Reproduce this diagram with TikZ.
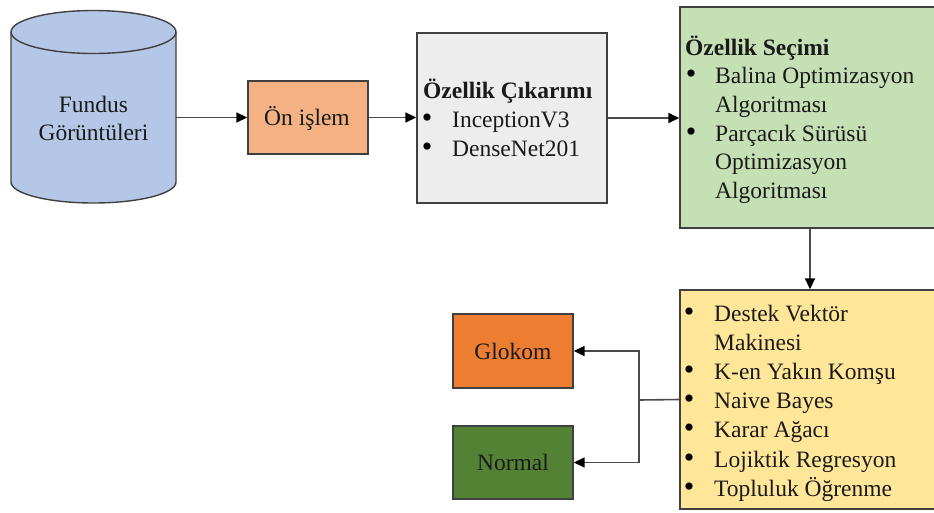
\documentclass[tikz,border=0pt]{standalone}
\usepackage{fontspec}
\newfontfamily\tnr{Liberation Serif}
\usetikzlibrary{arrows.meta}
\definecolor{cylfill}{HTML}{B4C7E7}
\definecolor{onfill}{HTML}{F4B183}
\definecolor{grayfill}{HTML}{EDEDED}
\definecolor{greenfill}{HTML}{C5E0B4}
\definecolor{yellowfill}{HTML}{FFE699}
\definecolor{glokomfill}{HTML}{ED7D31}
\definecolor{normalfill}{HTML}{548235}
\definecolor{bordergray}{HTML}{404040}
\definecolor{linegray}{HTML}{4A4A4A}
\definecolor{textcol}{HTML}{1A1A1A}
\begin{document}
\begin{tikzpicture}[x=1pt,y=-1pt,
  font=\tnr\fontsize{23.5}{29}\selectfont,
  box/.style={draw=bordergray, line width=1.4pt, inner sep=0},
  txt/.style={anchor=base west, inner sep=0, text=textcol},
  ctxt/.style={anchor=base, inner sep=0, text=textcol},
  bul/.style={anchor=base, inner sep=0, text=black, font=\tnr\fontsize{30}{29}\selectfont},
  arr/.style={draw=linegray, line width=1.6pt, -{Triangle[length=11pt,width=10pt,color=black]}}]
\useasboundingbox (0,0) rectangle (934,512);
\clip (0,0) rectangle (934,512);

% cylinder
\node[inner sep=0, minimum width=165, minimum height=150] (fundus) at (93.5,107) {};
\filldraw[fill=cylfill, draw=bordergray, line width=1.4pt]
  (11,32) arc[start angle=180, end angle=360, x radius=82.5, y radius=21.5]
  -- (176,182) arc[start angle=0, end angle=180, x radius=82.5, y radius=21] -- cycle;
\draw[draw=bordergray, line width=1.4pt]
  (11,32) arc[start angle=180, end angle=0, x radius=82.5, y radius=21.5];
\node[ctxt] (fundus1) at (93.5,112) {Fundus};
\node[ctxt] (fundus2) at (93.5,140) {Görüntüleri};

% boxes
\node[box, fill=onfill, minimum width=120, minimum height=73] (on) at (308,117.5) {};
\node[box, fill=grayfill, minimum width=190, minimum height=170] (gray) at (512,118) {};
\node[box, fill=greenfill, minimum width=270, minimum height=221] (green) at (815,117.5) {};
\node[box, fill=yellowfill, minimum width=270, minimum height=219] (yellow) at (815,399.5) {};
\node[box, fill=glokomfill, minimum width=120, minimum height=74] (glokom) at (513,351) {};
\node[box, fill=normalfill, minimum width=120, minimum height=73] (normal) at (513,462.5) {};

% texts
\node[ctxt] (ontxt) at (307,125) {Ön işlem};
\node[ctxt] (glokomtxt) at (513,359) {Glokom};
\node[ctxt] (normaltxt) at (513,470) {Normal};

\node[txt] (graytitle) at (423,98) {\bfseries Özellik Çıkarımı};
\node[bul] (gb1) at (427,127) {•};
\node[txt] (gt1) at (452,127) {InceptionV3};
\node[bul] (gb2) at (427,156) {•};
\node[txt] (gt2) at (452,156) {DenseNet201};

\node[txt] (greentitle) at (685,55) {\bfseries Özellik Seçimi};
\node[bul] (eb1) at (691,83.7) {•};
\node[txt] (et1) at (715,83.7) {Balina Optimizasyon};
\node[txt] (et2) at (715,112.4) {Algoritması};
\node[bul] (eb2) at (691,141.1) {•};
\node[txt] (et3) at (715,141.1) {Parçacık Sürüsü};
\node[txt] (et4) at (715,169.8) {Optimizasyon};
\node[txt] (et5) at (715,198.5) {Algoritması};

\node[bul] (yb1) at (689,321) {•};
\node[txt] (yt1) at (714,321) {Destek Vektör};
\node[txt] (yt1b) at (714,350.2) {Makinesi};
\node[bul] (yb2) at (689,379.4) {•};
\node[txt] (yt2) at (714,379.4) {K-en Yakın Komşu};
\node[bul] (yb3) at (689,408.6) {•};
\node[txt] (yt3) at (714,408.6) {Naive Bayes};
\node[bul] (yb4) at (689,437.8) {•};
\node[txt] (yt4) at (714,437.8) {Karar Ağacı};
\node[bul] (yb5) at (689,467) {•};
\node[txt] (yt5) at (714,467) {Lojiktik Regresyon};
\node[bul] (yb6) at (689,496.2) {•};
\node[txt] (yt6) at (714,496.2) {Topluluk Öğrenme};

% connectors
\coordinate (downx) at (810,0);
\coordinate (split) at (639,400);
\draw[arr] (fundus.east |- on.west) -- (on.west);
\draw[arr] (on.east) -- (on.east -| gray.west);
\draw[arr] (gray.east) -- (gray.east -| green.west);
\draw[arr] (green.south -| downx) -- (yellow.north -| downx);
\draw[draw=linegray, line width=1.6pt] (yellow.west) -- (split);
\draw[arr] (split) |- (glokom.east);
\draw[arr] (split) |- (normal.east);
\end{tikzpicture}
\end{document}
